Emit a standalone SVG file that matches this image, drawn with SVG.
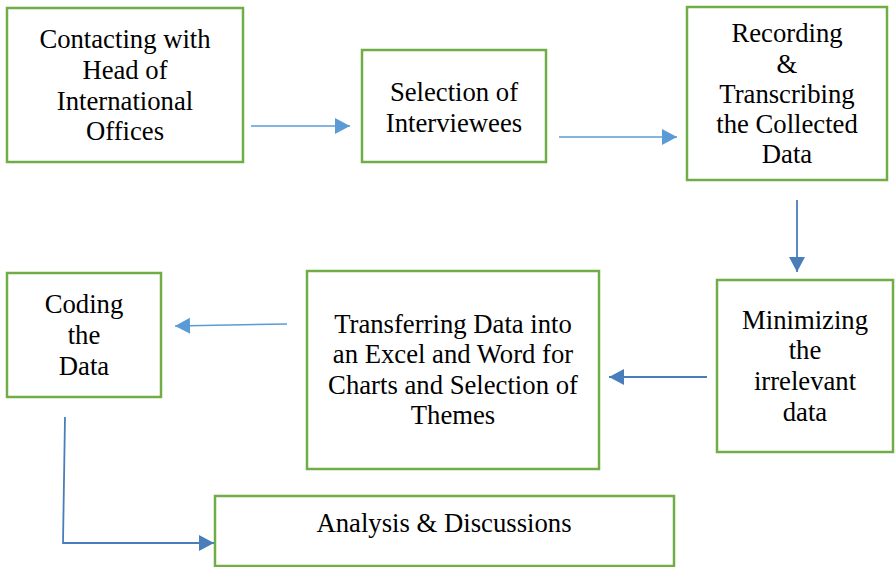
<svg xmlns="http://www.w3.org/2000/svg" width="896" height="567" viewBox="0 0 896 567">
<style>
.box{fill:#fff;stroke:#70AD47;stroke-width:2.5}
.t{font-family:"Liberation Serif","Times New Roman",Times,Tinos,"Nimbus Roman","Nimbus Roman No9 L","Noto Serif","DejaVu Serif",FreeSerif,serif;font-size:26.7px;fill:#000;text-anchor:middle}
.c1{fill:none;stroke:#5B9BD5;stroke-width:1.5}
.c2{fill:none;stroke:#4A7EBB;stroke-width:1.8}
</style>
<defs>
<marker id="a1" viewBox="0 0 10 10" refX="10" refY="5" markerWidth="10" markerHeight="10" markerUnits="userSpaceOnUse" orient="auto" overflow="visible">
<path d="M-5,-3 L10,5 L-5,13 Z" fill="#5B9BD5"/>
</marker>
<marker id="a2" viewBox="0 0 10 10" refX="10" refY="5" markerWidth="10" markerHeight="10" markerUnits="userSpaceOnUse" orient="auto" overflow="visible">
<path d="M-5,-3 L10,5 L-5,13 Z" fill="#4A7EBB"/>
</marker>
</defs>
<rect width="896" height="567" fill="#fff"/>
<g id="n1">
<rect class="box" x="7" y="8" width="236" height="154"/>
<text class="t" x="125" y="48">Contacting with</text>
<text class="t" x="125" y="79">Head of</text>
<text class="t" x="125" y="110">International</text>
<text class="t" x="125" y="140">Offices</text>
</g>
<g id="n2">
<rect class="box" x="362" y="50" width="184" height="112"/>
<text class="t" x="454" y="101">Selection of</text>
<text class="t" x="454" y="132">Interviewees</text>
</g>
<g id="n3">
<rect class="box" x="687" y="7" width="200" height="173"/>
<text class="t" x="787" y="42">Recording</text>
<text class="t" x="787" y="73">&amp;</text>
<text class="t" x="787" y="103">Transcribing</text>
<text class="t" x="787" y="133">the Collected</text>
<text class="t" x="787" y="163">Data</text>
</g>
<g id="n4">
<rect class="box" x="717" y="280" width="176" height="172"/>
<text class="t" x="805" y="329">Minimizing</text>
<text class="t" x="805" y="359">the</text>
<text class="t" x="805" y="390">irrelevant</text>
<text class="t" x="805" y="421">data</text>
</g>
<g id="n5">
<rect class="box" x="307" y="271" width="292" height="198"/>
<text class="t" x="453" y="333">Transferring Data into</text>
<text class="t" x="453" y="363">an Excel and Word for</text>
<text class="t" x="453" y="394">Charts and Selection of</text>
<text class="t" x="453" y="424">Themes</text>
</g>
<g id="n6">
<rect class="box" x="7" y="273" width="154" height="124"/>
<text class="t" x="84" y="313">Coding</text>
<text class="t" x="84" y="344">the</text>
<text class="t" x="84" y="375">Data</text>
</g>
<g id="n7">
<rect class="box" x="215" y="496" width="459" height="70"/>
<text class="t" x="444" y="532">Analysis &amp; Discussions</text>
</g>
<g id="connectors">
<line class="c1" x1="251" y1="126" x2="350" y2="126" marker-end="url(#a1)"/>
<line class="c1" x1="559" y1="137" x2="677" y2="137" marker-end="url(#a1)"/>
<line class="c2" x1="797" y1="200" x2="797" y2="272" marker-end="url(#a2)"/>
<line class="c2" x1="707" y1="377" x2="609" y2="377" marker-end="url(#a2)"/>
<line class="c1" x1="287" y1="324" x2="175" y2="326" marker-end="url(#a1)"/>
<polyline class="c2" points="65,417 63,543 214,543" marker-end="url(#a2)"/>
</g>
</svg>
